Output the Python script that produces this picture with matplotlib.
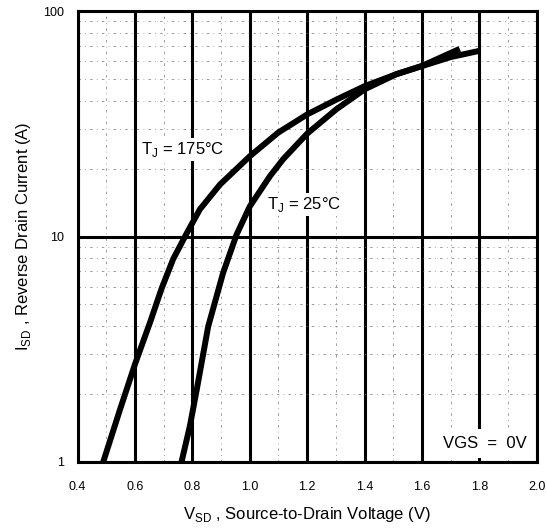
import matplotlib
matplotlib.use("Agg")
import matplotlib.pyplot as plt
from matplotlib.ticker import FixedLocator, NullFormatter

plt.rcParams['font.family'] = ['Liberation Sans', 'DejaVu Sans']
plt.rcParams['mathtext.fontset'] = 'custom'
plt.rcParams['mathtext.rm'] = 'Liberation Sans'

# curve readings: V_SD (V) vs I_SD (A)
v_175 = [0.489, 0.547, 0.600, 0.652, 0.693, 0.733, 0.783, 0.826, 0.896, 1.0,
         1.099, 1.2, 1.302, 1.401, 1.511, 1.6, 1.732]
i_175 = [1.0, 1.70, 2.72, 4.15, 5.9, 7.95, 10.5, 13.2, 17.0, 22.7,
         28.9, 34.8, 40.5, 46.5, 52.5, 57.1, 68.0]

v_25 = [0.762, 0.791, 0.815, 0.855, 0.907, 0.954, 1.0, 1.070, 1.116, 1.2,
        1.302, 1.401, 1.511, 1.6, 1.7, 1.8]
i_25 = [1.0, 1.44, 2.09, 3.99, 6.9, 10.2, 13.6, 18.5, 22.0, 28.6,
        36.7, 45.0, 52.5, 57.0, 62.5, 66.6]

x_ticks = [0.4, 0.6, 0.8, 1.0, 1.2, 1.4, 1.6, 1.8, 2.0]
x_minor = [0.5, 0.7, 0.9, 1.1, 1.3, 1.5, 1.7, 1.9]
y_ticks = [1, 10, 100]
y_minor = [2, 3, 4, 5, 6, 7, 8, 9, 20, 30, 40, 50, 60, 70, 80, 90]

fig = plt.figure(figsize=(5.47, 5.28), dpi=100)
ax = fig.add_axes([0.142, 0.125, 0.839, 0.854])

ax.set_yscale('log')
ax.set_xlim(0.4, 2.0)
ax.set_ylim(1, 100)

ax.xaxis.set_major_locator(FixedLocator(x_ticks))
ax.xaxis.set_minor_locator(FixedLocator(x_minor))
ax.yaxis.set_major_locator(FixedLocator(y_ticks))
ax.yaxis.set_minor_locator(FixedLocator(y_minor))
ax.yaxis.set_minor_formatter(NullFormatter())
ax.set_xticklabels([f"{t:.1f}" for t in x_ticks])
ax.set_yticklabels([str(t) for t in y_ticks])
ax.tick_params(which='both', length=0, labelsize=9)
ax.tick_params(axis='x', pad=14)
ax.tick_params(axis='y', pad=10)

ax.grid(which='major', color='black', linewidth=2.2)
ax.grid(which='minor', color='#8a8a8a', linewidth=0.6, linestyle=(0, (3, 5, 1, 5)))
ax.set_axisbelow(True)
for s in ax.spines.values():
    s.set_linewidth(2.2)

ax.plot(v_175, i_175, color='black', linewidth=4.3, solid_joinstyle='round',
        solid_capstyle='butt', zorder=3)
ax.plot(v_25, i_25, color='black', linewidth=4.3, solid_joinstyle='round',
        solid_capstyle='butt', zorder=3)

box = dict(facecolor='white', edgecolor='none', pad=1.5)
ax.text(0.622, 24.4, r"T$_\mathrm{J}$ = 175°C", fontsize=12, ha='left', va='center',
        bbox=box, zorder=2.5)
ax.text(1.06, 13.9, r"T$_\mathrm{J}$ = 25°C", fontsize=12, ha='left', va='center',
        bbox=box, zorder=2.5)
ax.text(1.965, 1.21, "VGS  =  0V", fontsize=12, ha='right', va='center',
        bbox=dict(facecolor='white', edgecolor='none', pad=5), zorder=2.5)

ax.set_xlabel(r"V$_\mathrm{SD}$ , Source-to-Drain Voltage (V)", fontsize=12, labelpad=8)
ax.set_ylabel(r"I$_\mathrm{SD}$ , Reverse Drain Current (A)", fontsize=12, labelpad=7)

fig.savefig("out.png", dpi=100)
